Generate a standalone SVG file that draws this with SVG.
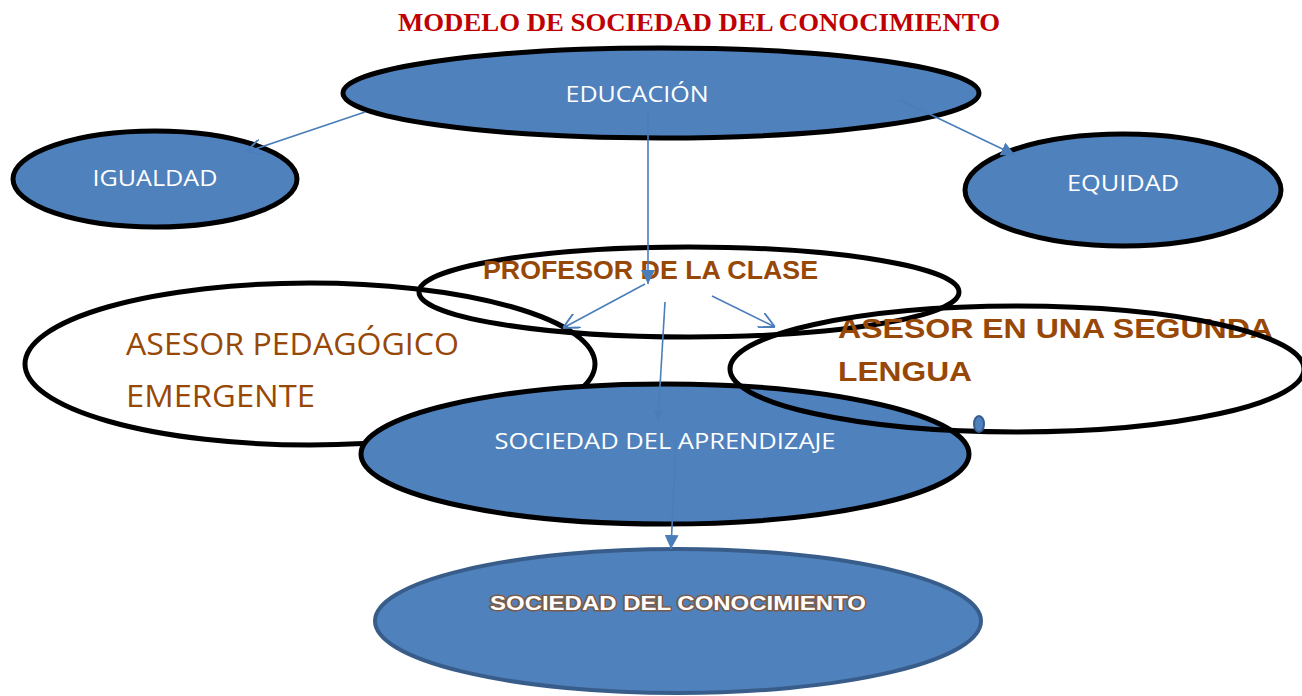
<svg xmlns="http://www.w3.org/2000/svg" width="1302" height="696" viewBox="0 0 1302 696">
<style>
.blue{fill:#4f81bd;stroke:#000;stroke-width:5}
.open{fill:none;stroke:#000;stroke-width:5}
.wt{fill:#fff;font-family:"Open Sans","Liberation Sans",sans-serif;font-size:22px}
.br{fill:#984806;font-family:"Open Sans","Liberation Sans",sans-serif;font-size:31px}
.brb{fill:#984806;font-family:"Liberation Sans",Arial,sans-serif;font-weight:bold}
.con{stroke:#4a7ebb;stroke-width:1.6;fill:none}
</style>
<defs>
<marker id="tri" viewBox="0 0 10 10" refX="10" refY="5" markerWidth="10" markerHeight="10" markerUnits="userSpaceOnUse" orient="auto">
<path d="M0,0 L10,5 L0,10 z" fill="#4a7ebb"/>
</marker>
<marker id="tri2" viewBox="0 0 10 10" refX="10" refY="5" markerWidth="14" markerHeight="14" markerUnits="userSpaceOnUse" orient="auto">
<path d="M0,0 L10,5 L0,10 z" fill="#4a7ebb"/>
</marker>
<marker id="opn" viewBox="0 0 10 10" refX="10" refY="5" markerWidth="16" markerHeight="16" markerUnits="userSpaceOnUse" orient="auto">
<path d="M0,0 L10,5 L0,10" fill="none" stroke="#4a7ebb" stroke-width="1.2"/>
</marker>
</defs>
<rect width="1302" height="696" fill="#fff"/>
<text x="699" y="31" text-anchor="middle" font-family="Liberation Serif,serif" font-weight="bold" font-size="26" fill="#c00000" textLength="602" lengthAdjust="spacingAndGlyphs">MODELO DE SOCIEDAD DEL CONOCIMIENTO</text>
<g id="educacion">
<ellipse class="blue" cx="661" cy="93" rx="318" ry="45"/>
<text class="wt" x="637" y="102" text-anchor="middle" textLength="143" lengthAdjust="spacingAndGlyphs">EDUCACIÓN</text>
</g>
<g id="igualdad">
<ellipse class="blue" cx="155" cy="179" rx="142" ry="48"/>
<text class="wt" x="155" y="186" text-anchor="middle" textLength="125" lengthAdjust="spacingAndGlyphs">IGUALDAD</text>
</g>
<g id="equidad">
<ellipse class="blue" cx="1123" cy="190" rx="158" ry="56"/>
<text class="wt" x="1123" y="191" text-anchor="middle" textLength="112" lengthAdjust="spacingAndGlyphs">EQUIDAD</text>
</g>
<g id="asesor-pedagogico">
<ellipse class="open" cx="310" cy="364" rx="285" ry="81"/>
<text class="br" x="126" y="355" textLength="333" lengthAdjust="spacingAndGlyphs">ASESOR PEDAGÓGICO</text>
<text class="br" x="126" y="407" textLength="189" lengthAdjust="spacingAndGlyphs">EMERGENTE</text>
</g>
<g id="profesor">
<ellipse class="open" cx="689" cy="292" rx="270" ry="45"/>
<text class="brb" x="483" y="279" font-size="25" textLength="335" lengthAdjust="spacingAndGlyphs">PROFESOR DE LA CLASE</text>
</g>
<g id="sociedad-aprendizaje">
<ellipse class="blue" cx="665" cy="454" rx="304" ry="70"/>
<text class="wt" x="665" y="449" text-anchor="middle" textLength="341" lengthAdjust="spacingAndGlyphs">SOCIEDAD DEL APRENDIZAJE</text>
</g>
<g id="asesor-segunda">
<text class="brb" x="838" y="338" font-size="28" textLength="435" lengthAdjust="spacingAndGlyphs">ASESOR EN UNA SEGUNDA</text>
<text class="brb" x="838" y="381" font-size="28" textLength="134" lengthAdjust="spacingAndGlyphs">LENGUA</text>
<ellipse class="open" cx="1017" cy="369" rx="287" ry="63"/>
<ellipse cx="979" cy="424" rx="5" ry="8" fill="#4f81bd" stroke="#385d8a" stroke-width="2"/>
</g>
<g id="sociedad-conocimiento">
<ellipse cx="678" cy="621" rx="303" ry="72" fill="#4f81bd" stroke="#385d8a" stroke-width="4"/>
<text x="678" y="610" text-anchor="middle" font-family="Liberation Sans,Arial,sans-serif" font-weight="bold" font-size="20" fill="#fff" stroke="#7a5a48" stroke-width="3" paint-order="stroke" stroke-linejoin="round" textLength="376" lengthAdjust="spacingAndGlyphs">SOCIEDAD DEL CONOCIMIENTO</text>
</g>
<g id="connectors">
<line class="con" x1="365" y1="112" x2="246" y2="152" marker-end="url(#opn)"/>
<line class="con" x1="900" y1="100" x2="1015" y2="155" marker-end="url(#tri2)"/>
<line class="con" x1="648" y1="108" x2="648" y2="284" marker-end="url(#tri2)"/>
<line class="con" x1="645" y1="284" x2="563" y2="328" marker-end="url(#opn)"/>
<line class="con" x1="712" y1="296" x2="775" y2="327" marker-end="url(#opn)"/>
<line class="con" x1="665" y1="302" x2="658" y2="420" marker-end="url(#tri)"/>
<line class="con" x1="676" y1="440" x2="671" y2="549" marker-end="url(#tri2)"/>
</g>
</svg>
